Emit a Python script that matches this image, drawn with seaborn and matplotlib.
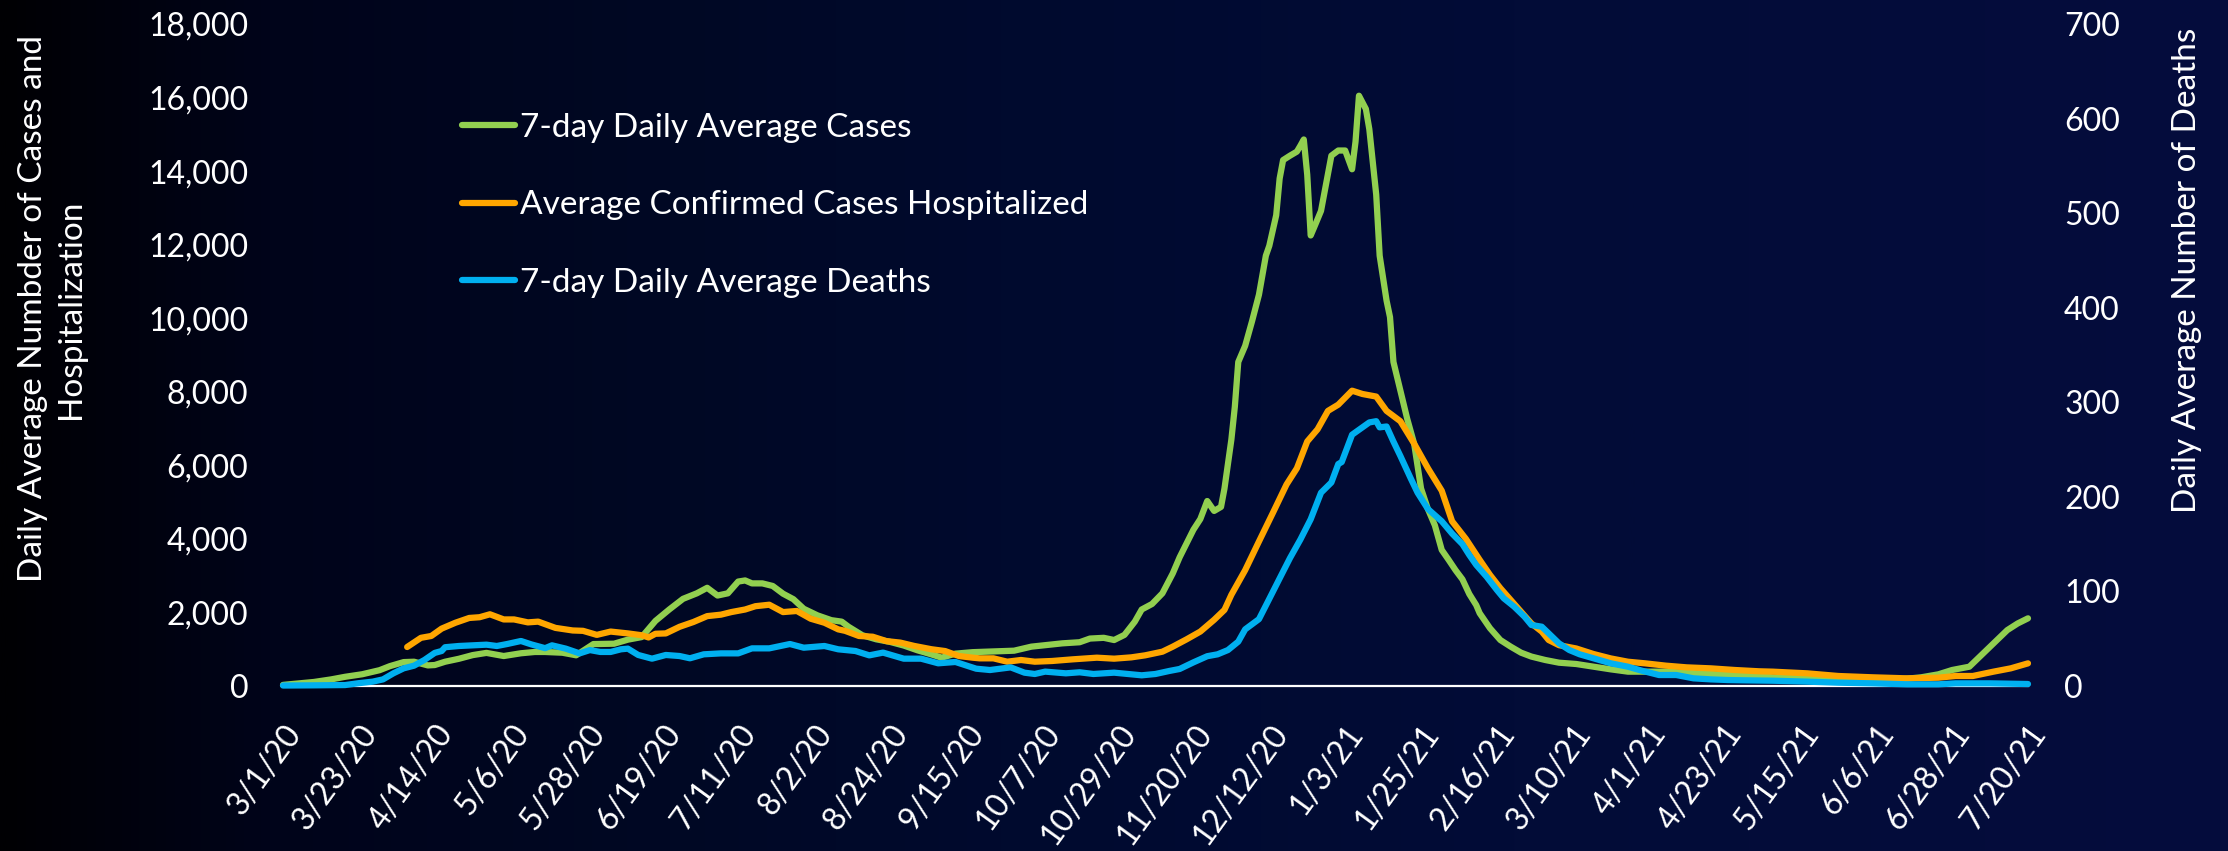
import numpy as np
import pandas as pd
import matplotlib
matplotlib.use("Agg")
import matplotlib.pyplot as plt
import seaborn as sns
from matplotlib.colors import LinearSegmentedColormap
from matplotlib.ticker import FuncFormatter, MultipleLocator
from matplotlib.transforms import ScaledTranslation

# ---------------- data ----------------
START = "2020-03-01"

tick_labels = ["3/1/20", "3/23/20", "4/14/20", "5/6/20", "5/28/20", "6/19/20",
               "7/11/20", "8/2/20", "8/24/20", "9/15/20", "10/7/20", "10/29/20",
               "11/20/20", "12/12/20", "1/3/21", "1/25/21", "2/16/21", "3/10/21",
               "4/1/21", "4/23/21", "5/15/21", "6/6/21", "6/28/21", "7/20/21"]

series_names = ["7-day Daily Average Cases",
                "Average Confirmed Cases Hospitalized",
                "7-day Daily Average Deaths"]

# days since 3/1/20
cases_day = [0, 9, 14, 18, 23, 28, 31, 35, 38, 42,
             44, 47, 51, 55, 59, 64, 69, 73, 76, 81,
             85, 90, 96, 100, 104, 108, 112, 116, 120, 123,
             126, 129, 132, 134, 136, 139, 142, 145, 148, 151,
             155, 159, 162, 164, 168, 172, 176, 180, 184, 188,
             191, 195, 200, 206, 212, 217, 221, 226, 231, 234,
             238, 241, 244, 247, 249, 252, 255, 258, 260, 264,
             266, 268, 270, 272, 273, 275, 276, 277, 279, 281,
             283, 285, 286, 288, 289, 290, 292, 294, 295, 296,
             297, 298, 299, 301, 303, 304, 306, 308, 310, 311,
             312, 314, 315, 317, 318, 320, 321, 322, 324, 326,
             328, 330, 332, 334, 336, 338, 340, 342, 344, 346,
             347, 350, 353, 356, 359, 362, 366, 370, 375, 380,
             385, 390, 395, 401, 407, 414, 421, 428, 432, 442,
             451, 461, 469, 475, 480, 484, 489, 494, 500, 503,
             506]
cases_val = [30, 110, 180, 250, 320, 430, 540, 650, 660, 560,
             570, 660, 740, 840, 900, 815, 890, 925, 925, 905,
             835, 1140, 1150, 1260, 1330, 1770, 2080, 2370, 2520, 2670,
             2460, 2520, 2840, 2870, 2790, 2790, 2720, 2510, 2360, 2100,
             1920, 1790, 1750, 1610, 1380, 1270, 1200, 1100, 970, 860,
             770, 880, 920, 940, 960, 1070, 1110, 1160, 1190, 1290,
             1310, 1250, 1390, 1750, 2080, 2230, 2520, 3060, 3500, 4250,
             4540, 5030, 4760, 4870, 5370, 6700, 7590, 8810, 9250, 9920,
             10640, 11700, 11970, 12800, 13800, 14300, 14420, 14530, 14690, 14860,
             13900, 12250, 12470, 12920, 13920, 14420, 14560, 14560, 14050, 14800,
             16050, 15690, 15140, 13360, 11700, 10480, 10030, 8810, 8030, 7260,
             6590, 5370, 4810, 4370, 3700, 3430, 3150, 2900, 2500, 2200,
             1980, 1570, 1250, 1070, 906, 800, 707, 634, 598, 525,
             453, 390, 390, 390, 362, 326, 300, 272, 236, 208,
             181, 163, 181, 236, 317, 435, 525, 978, 1520, 1700,
             1840]

hosp_day = [36, 40, 43, 46, 50, 54, 57, 60, 64, 67,
            71, 74, 79, 84, 87, 91, 95, 100, 104, 106,
            108, 111, 115, 119, 123, 127, 130, 134, 137, 141,
            145, 149, 153, 157, 161, 163, 167, 171, 175, 179,
            183, 188, 192, 196, 200, 202, 206, 210, 214, 218,
            223, 229, 236, 241, 246, 250, 255, 258, 262, 266,
            270, 273, 275, 279, 283, 287, 291, 294, 297, 300,
            303, 306, 310, 313, 317, 320, 324, 328, 332, 336,
            339, 343, 347, 350, 353, 356, 359, 362, 365, 367,
            370, 375, 380, 385, 390, 395, 401, 407, 414, 421,
            428, 432, 442, 451, 461, 471, 480, 485, 490, 496,
            501, 506]
hosp_val = [1060, 1310, 1360, 1560, 1720, 1850, 1870, 1950, 1810, 1810,
            1730, 1750, 1580, 1510, 1500, 1390, 1480, 1430, 1380, 1320,
            1420, 1430, 1610, 1740, 1900, 1940, 2010, 2080, 2170, 2210,
            2010, 2040, 1830, 1720, 1540, 1500, 1360, 1340, 1220, 1180,
            1090, 1000, 950, 815, 770, 752, 752, 661, 707, 661,
            680, 725, 770, 743, 779, 834, 933, 1069, 1268, 1480,
            1800, 2070, 2480, 3150, 3930, 4700, 5480, 5920, 6650, 6980,
            7480, 7650, 8030, 7940, 7870, 7480, 7200, 6590, 5920, 5310,
            4480, 4000, 3430, 3020, 2660, 2340, 2020, 1700, 1480, 1250,
            1110, 1020, 870, 750, 660, 616, 553, 507, 480, 435,
            400, 390, 344, 272, 236, 208, 226, 272, 272, 390,
            480, 616]

death_day = [0, 9, 18, 22, 26, 29, 32, 35, 38, 41,
             44, 46, 47, 51, 55, 59, 62, 65, 69, 72,
             76, 78, 82, 86, 89, 92, 95, 98, 100, 103,
             107, 111, 115, 118, 122, 127, 132, 136, 141, 147,
             151, 157, 161, 166, 170, 174, 180, 185, 190, 195,
             201, 205, 211, 215, 218, 221, 227, 231, 235, 241,
             245, 249, 253, 257, 260, 264, 268, 271, 274, 277,
             279, 283, 286, 289, 292, 295, 298, 301, 304, 306,
             307, 310, 313, 315, 317, 318, 320, 322, 324, 327,
             329, 332, 336, 339, 342, 344, 346, 349, 352, 354,
             357, 360, 362, 365, 367, 370, 373, 376, 380, 385,
             390, 394, 399, 404, 409, 414, 419, 424, 432, 442,
             451, 461, 471, 480, 485, 495, 506]
death_val = [0.5, 0.7, 1, 3, 4.6, 7, 13.4, 18.7, 21.5, 27.5,
             35, 37, 41, 42.3, 43, 43.7, 42.3, 44.4, 47.6, 44,
             40, 43, 39.5, 34.5, 38, 36, 36, 38.8, 39.5, 32.8,
             28.9, 32.8, 31.7, 29.3, 33.5, 34.5, 34.5, 39.8, 39.8, 44.4,
             40.5, 42.3, 38.8, 37, 32.4, 35.3, 28.9, 28.9, 24, 25.4,
             18.3, 16.9, 19.7, 14.1, 12.7, 15.2, 13.4, 14.5, 12.7, 14.1,
             12.7, 11.3, 12.7, 15.9, 18, 25, 31.5, 33.5, 38, 46.9,
             59.9, 70.7, 92.2, 113.8, 135.3, 154.8, 176.3, 204.4, 215.2, 234.7,
             236.8, 265.7, 273.5, 278.7, 280, 273.5, 274.4, 258.4, 243.3, 219.6,
             204.4, 187.1, 174.2, 161.2, 150, 138.5, 128, 115.6, 101.5, 92.7,
             83.9, 73.3, 64.5, 62.7, 55.7, 45.1, 38, 33.5, 29.3, 24,
             20.4, 16.2, 11.6, 11.6, 8.1, 7, 6.3, 6, 5.6, 4.6,
             3.5, 2.8, 1.8, 1.8, 2.8, 2.8, 2.1]

left_ylabel = "Daily Average Numbder of Cases and\nHospitalization"
right_ylabel = "Daily Average Number of Deaths"

# ---------------- style ----------------
GREEN = "#92D050"
ORANGE = "#FFA600"
BLUE = "#00B0F0"
WHITE = "#FFFFFF"

sns.set_style("white")
plt.rcParams["font.family"] = ["Lato", "DejaVu Sans"]

W, H = 2228, 851
fig = plt.figure(figsize=(W / 100, H / 100), dpi=100)
fig.patch.set_facecolor("#000000")

# background gradient (black -> navy)
bg = fig.add_axes([0, 0, 1, 1], zorder=-10)
grad = np.linspace(0, 1, 1024)[None, :]
cmap = LinearSegmentedColormap.from_list(
    "bg", [(0.0, "#000003"), (0.12, "#00041A"), (0.3, "#000824"),
           (0.45, "#000A2E"), (0.68, "#020C37"), (1.0, "#050D3D")])
bg.imshow(grad, aspect="auto", cmap=cmap, extent=[0, 1, 0, 1])
bg.set_axis_off()

ax = fig.add_axes([283 / W, 1 - 686 / H, (2028 - 283) / W, (686 - 24) / H])
ax.set_facecolor("none")
ax2 = ax.twinx()
ax2.set_facecolor("none")

t0 = pd.Timestamp(START)
cases_df = pd.DataFrame({"date": t0 + pd.to_timedelta(cases_day, unit="D"), "value": cases_val})
hosp_df = pd.DataFrame({"date": t0 + pd.to_timedelta(hosp_day, unit="D"), "value": hosp_val})
death_df = pd.DataFrame({"date": t0 + pd.to_timedelta(death_day, unit="D"), "value": death_val})

lw = 4.5
sns.lineplot(data=cases_df, x="date", y="value", ax=ax, color=GREEN, lw=lw,
             label=series_names[0], legend=False)
sns.lineplot(data=hosp_df, x="date", y="value", ax=ax, color=ORANGE, lw=lw,
             label=series_names[1], legend=False)
sns.lineplot(data=death_df, x="date", y="value", ax=ax2, color=BLUE, lw=lw,
             label=series_names[2], legend=False)
for a in (ax, ax2):
    for ln in a.get_lines():
        ln.set_clip_on(False)
        ln.set_solid_capstyle("round")
        ln.set_solid_joinstyle("round")

tick_dates = pd.to_datetime(tick_labels, format="%m/%d/%y")
ax.set_xlim(tick_dates[0], tick_dates[-1])
ax.set_ylim(0, 18000)
ax2.set_ylim(0, 700)
ax.yaxis.set_major_locator(MultipleLocator(2000))
ax2.yaxis.set_major_locator(MultipleLocator(100))
ax.yaxis.set_major_formatter(FuncFormatter(lambda v, p: f"{int(v):,}"))
ax2.yaxis.set_major_formatter(FuncFormatter(lambda v, p: f"{int(v)}"))

ax.set_xticks(tick_dates)
ax.set_xticklabels(tick_labels, rotation=54, ha="right", va="top",
                   rotation_mode="anchor")
offset = ScaledTranslation(7 / 100, 0, fig.dpi_scale_trans)
for lab in ax.get_xticklabels():
    lab.set_transform(lab.get_transform() + offset)

ax.tick_params(axis="x", length=0, pad=24, labelsize=23, colors=WHITE)
ax.tick_params(axis="y", length=0, pad=25, labelsize=23, colors=WHITE)
ax2.tick_params(axis="y", length=0, pad=26, labelsize=23, colors=WHITE)
ax.set_xlabel("")
ax.set_ylabel("")
ax2.set_ylabel("")

for a in (ax, ax2):
    for s in ("top", "left", "right", "bottom"):
        a.spines[s].set_visible(False)
ax.spines["bottom"].set_visible(True)
ax.spines["bottom"].set_color(WHITE)
ax.spines["bottom"].set_linewidth(1.6)
ax.grid(False)
ax2.grid(False)

fig.text(52 / W, 1 - 309 / H, left_ylabel, rotation=90, ha="center", va="center",
         multialignment="center", fontsize=24, color=WHITE, linespacing=1.35)
fig.text(2187 / W, 1 - 270 / H, right_ylabel, rotation=90, ha="center", va="center",
         fontsize=24, color=WHITE)

h1, l1 = ax.get_legend_handles_labels()
h2, l2 = ax2.get_legend_handles_labels()
leg = ax2.legend(h1 + h2, l1 + l2, loc="upper left",
                 bbox_to_anchor=(462 / W, 1 - 113 / H), bbox_transform=fig.transFigure,
                 frameon=False, fontsize=24, handlelength=1.6, handletextpad=0.15,
                 labelspacing=1.42, borderpad=0, borderaxespad=0)
for t in leg.get_texts():
    t.set_color(WHITE)
for hl in leg.get_lines():
    hl.set_linewidth(lw)

fig.savefig("out.png", dpi=100, facecolor=fig.get_facecolor())
